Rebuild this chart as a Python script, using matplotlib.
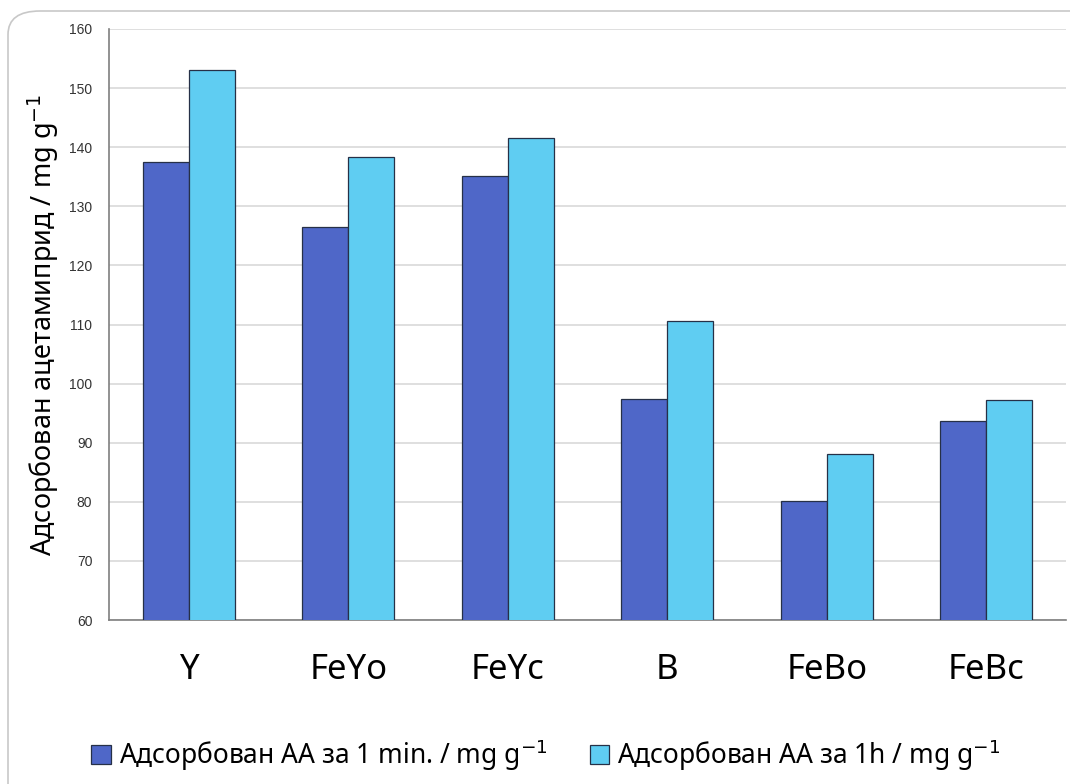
import matplotlib.pyplot as plt
import numpy as np
from matplotlib.patches import FancyBboxPatch

plt.rcParams['font.family'] = ['Noto Sans', 'DejaVu Sans']

categories = ['Y', 'FeYo', 'FeYc', 'B', 'FeBo', 'FeBc']
aa_1min = [137.5, 126.5, 135.1, 97.4, 80.1, 93.7]
aa_1h = [153.1, 138.3, 141.6, 110.6, 88.1, 97.2]
label_1min = 'Адсорбован АА за 1 min. / mg g$^{-1}$'
label_1h = 'Адсорбован АА за 1h / mg g$^{-1}$'

fig = plt.figure(figsize=(10.7, 7.84), dpi=100)

# rounded frame around the figure
frame = FancyBboxPatch((8 / 1070, -0.1), 1.2, 1 - 11 / 784 + 0.1,
                       boxstyle='round,pad=0,rounding_size=0.03',
                       transform=fig.transFigure, fill=False,
                       edgecolor='#c8c8c8', linewidth=1.2, zorder=0)
fig.patches.append(frame)

ax = fig.add_axes([109 / 1070, 1 - 620 / 784, (1066 - 109) / 1070, (620 - 29) / 784])

x = np.arange(len(categories))
w = 0.287
ax.bar(x - w / 2, aa_1min, w, color='#4f67c8', edgecolor='#263047', linewidth=0.9,
       label=label_1min, zorder=3)
ax.bar(x + w / 2, aa_1h, w, color='#5fcdf2', edgecolor='#263047', linewidth=0.9,
       label=label_1h, zorder=3)

ax.set_xlim(-0.5, len(categories) - 0.5)
ax.set_ylim(60, 160)
ax.set_yticks(np.arange(60, 161, 10))
ax.yaxis.grid(True, color='#d9d9d9', linewidth=1.2, zorder=0)
ax.set_axisbelow(True)

ax.set_xticks(x)
ax.set_xticklabels(categories, fontsize=25)
ax.tick_params(axis='x', length=0, pad=24)
ax.tick_params(axis='y', length=0, pad=12, labelsize=10, labelcolor='#333333')
for lbl in ax.get_yticklabels():
    lbl.set_family(['Liberation Sans', 'DejaVu Sans'])

for s in ['top', 'right']:
    ax.spines[s].set_visible(False)
ax.spines['left'].set_color('#7f7f7f')
ax.spines['bottom'].set_color('#7f7f7f')
ax.spines['left'].set_linewidth(1.2)
ax.spines['bottom'].set_linewidth(1.2)

ax.set_ylabel('Адсорбован ацетамиприд / mg g$^{-1}$', fontsize=19.5, labelpad=6)

fig.legend(loc='center', bbox_to_anchor=(0.51, 1 - 755 / 784), ncol=2, frameon=False,
           fontsize=19, handlelength=0.75, handleheight=0.75, handletextpad=0.3,
           columnspacing=1.6)

plt.savefig('out.png', dpi=100)
plt.close()
